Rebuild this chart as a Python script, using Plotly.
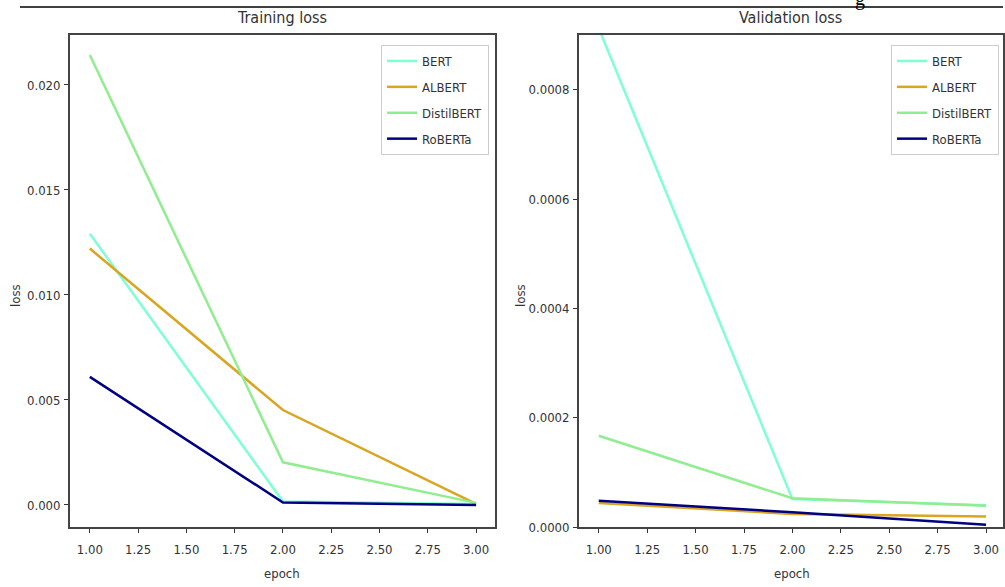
import plotly.graph_objects as go

epochs = [1, 2, 3]
models = ["BERT", "ALBERT", "DistilBERT", "RoBERTa"]
colors = ["#7fffd4", "#daa520", "#90ee90", "#000080"]

train_bert = [0.01292, 0.00016, 0.00005]
train_albert = [0.01221, 0.00452, 0.00005]
train_distil = [0.02143, 0.00203, 0.00010]
train_roberta = [0.00610, 0.00012, 0.00000]

val_bert = [0.000912, 0.000051, 0.000040]
val_albert = [0.000044, 0.000024, 0.000019]
val_distil = [0.000167, 0.0000525, 0.000039]
val_roberta = [0.000048, 0.000027, 0.000004]

train = [train_bert, train_albert, train_distil, train_roberta]
val = [val_bert, val_albert, val_distil, val_roberta]

W, H = 1005, 587
HE = 579  # effective rendered height used for paper placement
FONT = "DejaVu Sans Condensed"
TXT = "#333333"

def fx(px):
    return px / W

def fy(py):
    return 1 - py / HE

fig = go.Figure()
for i, name in enumerate(models):
    fig.add_trace(go.Scatter(x=epochs, y=train[i], mode="lines", name=name,
                             line=dict(color=colors[i], width=2.5),
                             xaxis="x", yaxis="y", legend="legend",
                             legendgroup="t" + name))
for i, name in enumerate(models):
    fig.add_trace(go.Scatter(x=epochs, y=val[i], mode="lines", name=name,
                             line=dict(color=colors[i], width=2.5),
                             xaxis="x2", yaxis="y2", legend="legend2",
                             legendgroup="v" + name))

axis_common = dict(showgrid=False, zeroline=False, showline=True, mirror=True,
                   linecolor="#444444", linewidth=1.5, ticks="outside",
                   ticklen=4, tickwidth=1.2, tickcolor="#333333",
                   tickfont=dict(family=FONT, size=13, color=TXT))

xt = [1.0, 1.25, 1.5, 1.75, 2.0, 2.25, 2.5, 2.75, 3.0]
xtl = ["1.00", "1.25", "1.50", "1.75", "2.00", "2.25", "2.50", "2.75", "3.00"]

fig.update_layout(
    width=W, height=H, autosize=False,
    margin=dict(l=0, r=0, t=0, b=0),
    paper_bgcolor="white", plot_bgcolor="white",
    showlegend=True,
    xaxis=dict(domain=[fx(70), fx(496)], range=[0.8966, 3.098],
               tickvals=xt, ticktext=xtl, anchor="y", ticklabelstandoff=6,
               **axis_common),
    yaxis=dict(domain=[fy(527), fy(35)], range=[-0.00105, 0.02238],
               tickvals=[0, 0.005, 0.01, 0.015, 0.02],
               ticktext=["0.000", "0.005", "0.010", "0.015", "0.020"],
               anchor="x", ticklabelstandoff=1, **axis_common),
    xaxis2=dict(domain=[fx(580), 1.0], range=[0.897, 3.0876],
                tickvals=xt, ticktext=xtl, anchor="y2", ticklabelstandoff=6,
                **axis_common),
    yaxis2=dict(domain=[fy(527), fy(35)], range=[0, 0.0009],
                tickvals=[0, 0.0002, 0.0004, 0.0006, 0.0008],
                ticktext=["0.0000", "0.0002", "0.0004", "0.0006", "0.0008"],
                anchor="x2", ticklabelstandoff=1, **axis_common),
    legend=dict(x=fx(490), y=fy(45), xanchor="right", yanchor="top",
                bgcolor="rgba(255,255,255,0.9)", bordercolor="#cccccc",
                borderwidth=1, tracegroupgap=6,
                font=dict(family=FONT, size=13, color=TXT)),
    legend2=dict(x=fx(1001), y=fy(45), xanchor="right", yanchor="top",
                 bgcolor="rgba(255,255,255,0.9)", bordercolor="#cccccc",
                 borderwidth=1, tracegroupgap=6,
                 font=dict(family=FONT, size=13, color=TXT)),
)

ann = [
    dict(text="Training loss", x=fx(283), y=fy(17), size=16),
    dict(text="Validation loss", x=fx(792), y=fy(17), size=16),
    dict(text="epoch", x=fx(283), y=fy(573), size=13),
    dict(text="epoch", x=fx(794), y=fy(573), size=13),
]
for a in ann:
    fig.add_annotation(text=a["text"], x=a["x"], y=a["y"], xref="paper", yref="paper",
                       xanchor="center", yanchor="middle", showarrow=False,
                       font=dict(family=FONT, size=a["size"], color=TXT))
for xpos in [15, 521]:
    fig.add_annotation(text="loss", x=fx(xpos), y=fy(295), xref="paper", yref="paper",
                       xanchor="center", yanchor="middle", showarrow=False, textangle=-90,
                       font=dict(family=FONT, size=13, color=TXT))

# document artifacts at top
fig.add_shape(type="line", xref="paper", yref="paper", x0=fx(20), x1=1.0,
              y0=fy(7), y1=fy(7), line=dict(color="black", width=1.5))
fig.add_annotation(text="g", x=fx(862), y=fy(-1), xref="paper", yref="paper",
                   xanchor="center", yanchor="middle", showarrow=False,
                   font=dict(family="Liberation Serif", size=20, color="black"))

post = """
var b = document.body;
b.style.margin = '0'; b.style.padding = '0';
"""

fig.write_html("out.html",
               config={"displayModeBar": False, "responsive": False},
               post_script=post)
